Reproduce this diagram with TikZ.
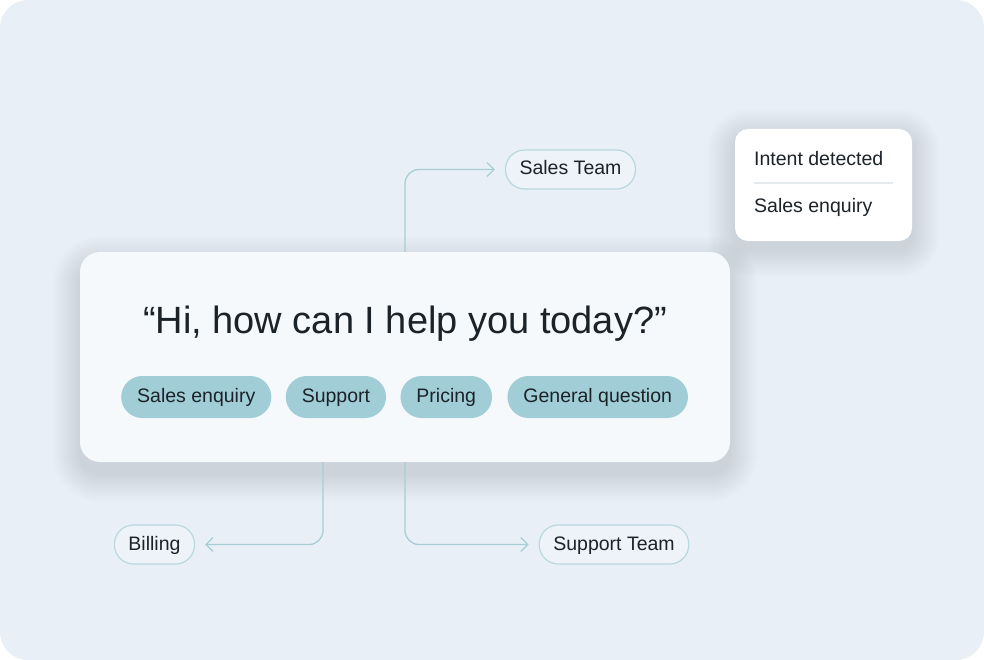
\documentclass[tikz,border=0pt]{standalone}
\usepackage{fontspec}
\setmainfont{Liberation Sans}
\usetikzlibrary{positioning,arrows.meta}

\definecolor{fondo}{HTML}{E8EFF6}
\definecolor{tarjetafondo}{HTML}{F6F9FC}
\definecolor{chipfondo}{HTML}{A1CDD7}
\definecolor{borde}{HTML}{B9D7DF}
\definecolor{pillfondo}{HTML}{EDF3F8}
\definecolor{linea}{HTML}{A9CDD6}
\definecolor{tinta}{HTML}{1C2328}
\definecolor{separador}{HTML}{E4E9EC}
\definecolor{sombra}{HTML}{6A7E8C}

\begin{document}
\begin{tikzpicture}[x=1pt,y=-1pt,every node/.style={text=tinta,font=\fontsize{19.5}{22}\selectfont}] %1 unidad = 1 pixel, y hacia abajo
    %Estilos: la tarjeta grande, los chips de intenciones, las pastillas de destino y las flechas
    \tikzset{
        tarjeta/.style={fill=tarjetafondo,rounded corners=20pt},
        caja/.style={fill=white,rounded corners=13pt},
        chip/.style={fill=chipfondo,rounded corners=21pt,minimum height=42pt,inner xsep=16pt,inner ysep=0pt,text height=15pt,text depth=4pt},
        pill/.style={draw=borde,line width=1.2pt,fill=pillfondo,rounded corners=19pt,minimum height=39pt,inner xsep=14pt,inner ysep=0pt,text height=15pt,text depth=4pt},
        conector/.style={draw=linea,line width=1.3pt,rounded corners=14pt,-{Straight Barb[length=7pt,width=14pt]},shorten >=10pt}
    }

    %El fondo celeste con las esquinas redondeadas
    \useasboundingbox (0,0) rectangle (984,660);
    \fill[white] (0,0) rectangle (984,660);
    \fill[fondo,rounded corners=28pt] (0,0) rectangle (984,660);

    %Sombras difusas hechas a mano (muchos rectangulos casi transparentes)
    \foreach \r in {1,...,28}{
        \fill[sombra,opacity=0.005,rounded corners=20pt+\r pt] (80-\r,252-\r+12) rectangle (730+\r,462+\r+12);
        \fill[sombra,opacity=0.004,rounded corners=13pt+\r pt] (735-\r,129-\r+8) rectangle (912+\r,241+\r+8);
    }

    %La tarjeta con la pregunta
    \node[tarjeta,minimum width=650pt,minimum height=210pt] (card) at (405,357) {};
    \node[font=\fontsize{38}{44}\selectfont] (quote) at (405,324) {“Hi, how can I help you today?”};

    %Los chips (relativos entre si)
    \node[chip,anchor=west] (salesenq) at (121,397) {Sales enquiry};
    \node[chip,right=14pt of salesenq] (support) {Support};
    \node[chip,right=14pt of support] (pricing) {Pricing};
    \node[chip,right=15pt of pricing] (general) {General question};

    %Los destinos
    \node[pill] (salesteam) at (570.5,169.5) {Sales Team};
    \node[pill] (billing) at (154.5,544.5) {Billing};
    \node[pill] (supportteam) at (614,544.5) {Support Team};

    %La cajita de la intencion detectada
    \node[caja,minimum width=177pt,minimum height=112pt] (intent) at (823.5,185) {};
    \node[anchor=west,inner sep=0pt] (intentlabel) at (754,159) {Intent detected};
    \node[anchor=west,inner sep=0pt] (intentvalue) at (754,207) {Sales enquiry};
    \draw[separador,line width=1.2pt] (754,183) -- (893,183);

    %Las flechas
    \draw[conector] (card.north) |- (salesteam);
    \draw[conector] ([xshift=-82pt]card.south) |- (billing);
    \draw[conector] (card.south) |- (supportteam);
\end{tikzpicture}
\end{document}
